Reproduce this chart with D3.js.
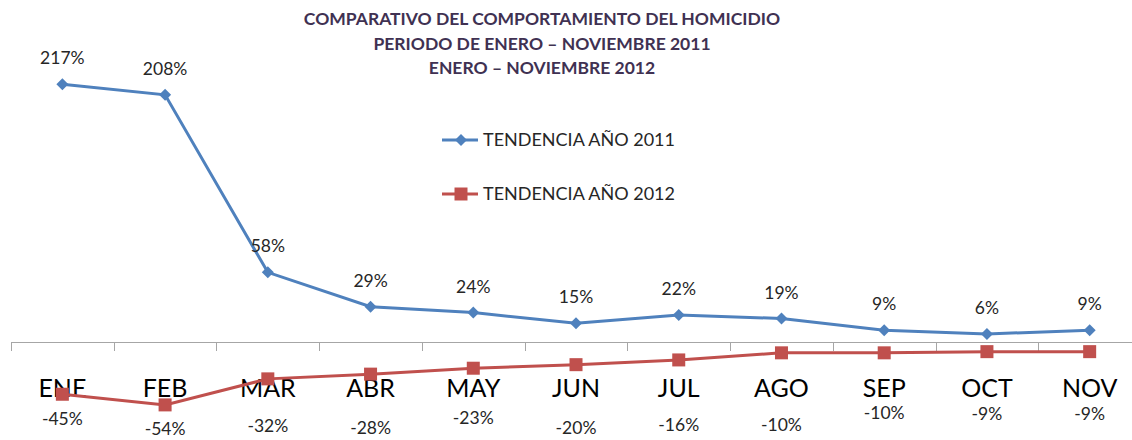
<!DOCTYPE html>
<html>
<head>
<meta charset="utf-8">
<script src="https://cdn.jsdelivr.net/npm/d3@7/dist/d3.min.js"></script>
<style>
  html, body { margin: 0; padding: 0; background: #fff; }
  svg { display: block; font-family: Lato, "Open Sans", sans-serif; }
</style>
</head>
<body>
<div id="chart"></div>
<script>
// chart data
const months = ["ENE", "FEB", "MAR", "ABR", "MAY", "JUN", "JUL", "AGO", "SEP", "OCT", "NOV"];
const trend2011 = [217, 208, 58, 29, 24, 15, 22, 19, 9, 6, 9];
const trend2012 = [-45, -54, -32, -28, -23, -20, -16, -10, -10, -9, -9];
const seriesNames = ["TENDENCIA AÑO 2011", "TENDENCIA AÑO 2012"];
const titleLines = [
  "COMPARATIVO DEL COMPORTAMIENTO  DEL HOMICIDIO",
  "PERIODO DE ENERO – NOVIEMBRE 2011",
  "ENERO – NOVIEMBRE 2012"
];

// label nudges (the negative labels were placed by hand in the original)
const lowLabelDy = [25, 24, 47, 54, 50, 63, 65, 72, 60, 62, 62];

const width = 1132;
const height = 440;
const blue = "#4f81bd";
const red = "#c0504d";

const svg = d3.select("#chart").append("svg")
  .attr("width", width)
  .attr("height", height);

const x = d3.scaleBand()
  .domain(months)
  .range([11, 11 + 102.73 * months.length])
  .padding(0);

const y = d3.scaleLinear()
  .domain([-60, 240])
  .range([412, 57]);

const cx = m => x(m) + x.bandwidth() / 2;
const axisY = 342;

// title
svg.append("g")
  .selectAll("text")
  .data(titleLines)
  .join("text")
  .attr("x", 542)
  .attr("y", (d, i) => 25 + i * 24.5)
  .attr("text-anchor", "middle")
  .attr("font-weight", "bold")
  .attr("font-size", 17.5)
  .attr("fill", "#403152")
  .text(d => d);

// category axis
const gx = svg.append("g");
gx.append("line")
  .attr("x1", x.range()[0]).attr("x2", x.range()[1])
  .attr("y1", axisY + 0.5).attr("y2", axisY + 0.5)
  .attr("stroke", "#a6a6a6");
gx.selectAll("line.tick")
  .data(months.concat([null]))
  .join("line")
  .attr("class", "tick")
  .attr("x1", (d, i) => Math.round(x.range()[0] + i * x.step()) + 0.5)
  .attr("x2", (d, i) => Math.round(x.range()[0] + i * x.step()) + 0.5)
  .attr("y1", axisY).attr("y2", axisY + 9)
  .attr("stroke", "#a6a6a6");

const labels = svg.append("g")
  .attr("transform", `translate(0,${axisY})`)
  .call(d3.axisBottom(x).tickSize(0).tickPadding(37));
labels.select(".domain").remove();
labels.selectAll("text")
  .attr("font-size", 25)
  .attr("font-family", "Lato, sans-serif")
  .attr("fill", "#000");

const line = d3.line()
  .x((d, i) => cx(months[i]))
  .y(d => y(d));

// 2012 series
svg.append("path")
  .datum(trend2012)
  .attr("fill", "none")
  .attr("stroke", red)
  .attr("stroke-width", 3)
  .attr("d", line);
svg.selectAll("rect.m2012")
  .data(trend2012)
  .join("rect")
  .attr("class", "m2012")
  .attr("x", (d, i) => cx(months[i]) - 6.5)
  .attr("y", d => y(d) - 6.5)
  .attr("width", 13).attr("height", 13)
  .attr("fill", red);

// 2011 series
svg.append("path")
  .datum(trend2011)
  .attr("fill", "none")
  .attr("stroke", blue)
  .attr("stroke-width", 3)
  .attr("d", line);
svg.selectAll("path.m2011")
  .data(trend2011)
  .join("path")
  .attr("class", "m2011")
  .attr("transform", (d, i) => `translate(${cx(months[i])},${y(d)})`)
  .attr("d", "M0,-6L6,0L0,6L-6,0Z")
  .attr("fill", blue);

// data labels
svg.selectAll("text.l2011")
  .data(trend2011)
  .join("text")
  .attr("class", "l2011")
  .attr("x", (d, i) => cx(months[i]))
  .attr("y", d => y(d) - 20)
  .attr("text-anchor", "middle")
  .attr("font-size", 17.5)
  .attr("fill", "#262626")
  .text(d => d + "%");

svg.selectAll("text.l2012")
  .data(trend2012)
  .join("text")
  .attr("class", "l2012")
  .attr("x", (d, i) => cx(months[i]))
  .attr("y", (d, i) => y(d) + lowLabelDy[i] + 6)
  .attr("text-anchor", "middle")
  .attr("font-size", 17.5)
  .attr("fill", "#262626")
  .text(d => d + "%");

// legend
const legend = svg.append("g")
  .selectAll("g")
  .data(seriesNames)
  .join("g")
  .attr("transform", (d, i) => `translate(442,${140 + i * 54})`);
legend.append("line")
  .attr("x1", 0).attr("x2", 36)
  .attr("stroke", (d, i) => i ? red : blue)
  .attr("stroke-width", 3);
legend.append("path")
  .attr("transform", "translate(19,0)")
  .attr("d", (d, i) => i ? "M-6.5,-6.5H6.5V6.5H-6.5Z" : "M0,-6L6,0L0,6L-6,0Z")
  .attr("fill", (d, i) => i ? red : blue);
legend.append("text")
  .attr("x", 41)
  .attr("dy", "0.35em")
  .attr("font-size", 18)
  .attr("fill", "#262626")
  .text(d => d);
</script>
</body>
</html>
